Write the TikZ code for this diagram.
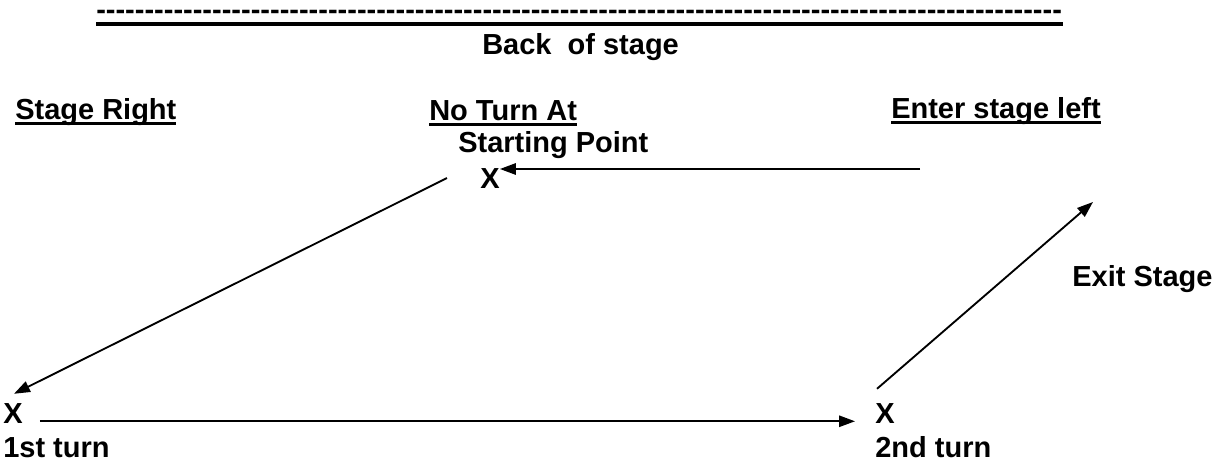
\documentclass[tikz,border=0pt]{standalone}
\usepackage{fontspec}
\setmainfont{Liberation Sans}
\usetikzlibrary{arrows.meta, positioning}

\newcommand{\dashrow}{\foreach \n in {1,...,100}{\hbox{-}}}
\newcommand{\ulined}[1]{\setbox0\hbox{#1}\rlap{\rule[-4.4pt]{\wd0}{2.2pt}}\box0}

\begin{document}
\begin{tikzpicture}[
        x=0.75pt, y=-0.75pt,
        stagetext/.style={
          anchor=base west,
          inner sep=0pt,
          font=\fontsize{21.75}{26}\selectfont\bfseries
        },
        cross/.style={stagetext},
        arrow/.style={-{Triangle[length=12pt,width=8.5pt]}, line width=1.4pt}
      ]

      \useasboundingbox (0,0) rectangle (1223,464);

      % Back of the stage
      \node[stagetext] (dashes) at (96,19) {\dashrow};
      \draw[line width=3.2pt] (96,24) -- (1063,24);
      \node[stagetext] (back) at (482,54) {Back\ \ of stage};

      % Headings
      \node[stagetext] (stageright) at (15,119) {\ulined{Stage Right}};
      \node[stagetext] (noturn) at (429,120) {\ulined{No Turn At}};
      \node[stagetext] (starting) at (458,152) {Starting Point};
      \node[stagetext] (enter) at (891,118) {\ulined{Enter stage left}};
      \node[stagetext] (exit) at (1072,286) {Exit Stage};

      % Turning points
      \node[cross] (startx) at (480,188) {X};
      \node[cross] (firstx) at (3,423) {X};
      \node[cross] (secondx) at (875,423) {X};
      \node[stagetext] (firstturn) at (3,457) {1st turn};
      \node[stagetext] (secondturn) at (875,457) {2nd turn};

      \coordinate (enterpt) at (920,169);
      \coordinate (exitpt) at (1093,202);

      % Path across the stage
      \draw[arrow] (enterpt) -- (enterpt -| startx.east);
      \draw[arrow] ([shift={(-33,0)}]startx.west) -- ([shift={(11,-9)}]firstx.north west);
      \draw[arrow] ([shift={(17,-2)}]firstx.south east) -- ([shift={(-20,-2)}]secondx.south west);
      \draw[arrow] ([shift={(2,-14)}]secondx.north west) -- (exitpt);

    \end{tikzpicture}
\end{document}
